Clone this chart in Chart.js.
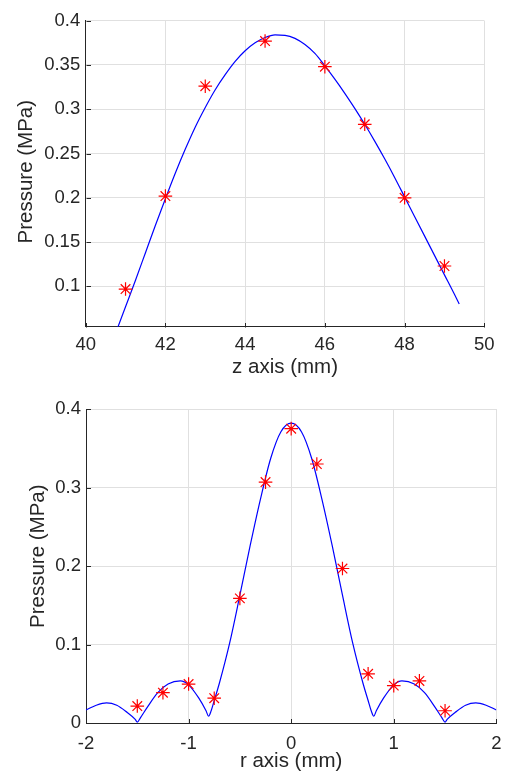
<!DOCTYPE html>
<html>
<head>
<meta charset="utf-8">
<script src="https://cdn.jsdelivr.net/npm/chart.js@4/dist/chart.umd.min.js"></script>
<style>
  html, body { margin: 0; padding: 0; background: #fff; overflow: hidden; }
  body { width: 511px; height: 772px; position: relative; }
  canvas { position: absolute; left: 0; }
  #c1 { top: 0; }
  #c2 { top: 386px; }
</style>
</head>
<body>
<canvas id="c1" width="511" height="386"></canvas>
<canvas id="c2" width="511" height="390"></canvas>
<script>
// ---- Top chart (z axis) ----
const zMeasured  = [41, 42, 43, 44.5, 46, 47, 48, 49];
const pMeasuredZ = [0.097, 0.202, 0.326, 0.377, 0.348, 0.283, 0.200, 0.123];

const zFit  = [40.75, 41, 41.25, 41.5, 41.75, 42, 42.25, 42.5, 42.75, 43, 43.25, 43.5, 43.75, 44, 44.25, 44.5, 44.75, 45, 45.25, 45.5, 45.75, 46, 46.25, 46.5, 46.75, 47, 47.25, 47.5, 47.75, 48, 48.25, 48.5, 48.75, 49, 49.25, 49.37];
const pFitZ = [0.047, 0.077, 0.107, 0.138, 0.169, 0.199, 0.228, 0.255, 0.280, 0.302, 0.322, 0.339, 0.354, 0.366, 0.375, 0.381, 0.384, 0.3835, 0.380, 0.373, 0.363, 0.349, 0.334, 0.318, 0.301, 0.283, 0.264, 0.244, 0.223, 0.201, 0.179, 0.157, 0.135, 0.113, 0.091, 0.080];

const zTicks = [40, 42, 44, 46, 48, 50];
const zTickLabels = ['40', '42', '44', '46', '48', '50'];
const pTicksTop = [0.1, 0.15, 0.2, 0.25, 0.3, 0.35, 0.4];
const pTickLabelsTop = ['0.1', '0.15', '0.2', '0.25', '0.3', '0.35', '0.4'];

// ---- Bottom chart (r axis) ----
const rMeasured  = [-1.5, -1.25, -1, -0.75, -0.5, -0.25, 0, 0.25, 0.5, 0.75, 1, 1.25, 1.5];
const pMeasuredR = [0.022, 0.039, 0.050, 0.032, 0.159, 0.307, 0.375, 0.330, 0.197, 0.063, 0.048, 0.054, 0.016];

const rFit  = [-2.0, -1.9, -1.8, -1.7, -1.6, -1.52, -1.5, -1.47, -1.4, -1.3, -1.2, -1.08, -1.0, -0.9, -0.83, -0.805, -0.78, -0.75, -0.7, -0.6, -0.5, -0.4, -0.3, -0.2, -0.1, 0,
               0.1, 0.2, 0.3, 0.4, 0.5, 0.6, 0.7, 0.75, 0.78, 0.805, 0.83, 0.9, 1.0, 1.08, 1.2, 1.3, 1.4, 1.47, 1.5, 1.52, 1.6, 1.7, 1.8, 1.9, 2.0];
const pFitR = [0.017, 0.023, 0.026, 0.023, 0.014, 0.005, 0.0015, 0.007, 0.021, 0.039, 0.050, 0.054, 0.049, 0.032, 0.016, 0.009, 0.016, 0.029, 0.051, 0.102, 0.163, 0.226, 0.285, 0.337, 0.371, 0.382,
               0.371, 0.337, 0.285, 0.226, 0.163, 0.102, 0.051, 0.029, 0.016, 0.009, 0.016, 0.032, 0.049, 0.054, 0.050, 0.039, 0.021, 0.007, 0.0015, 0.005, 0.014, 0.023, 0.026, 0.023, 0.017];

const rTicks = [-2, -1, 0, 1, 2];
const rTickLabels = ['-2', '-1', '0', '1', '2'];
const pTicksBottom = [0, 0.1, 0.2, 0.3, 0.4];
const pTickLabelsBottom = ['0', '0.1', '0.2', '0.3', '0.4'];

const yTitle = 'Pressure (MPa)';

// ---- styling ----
const FONT = '"Liberation Sans", Arial, Helvetica, sans-serif';
const TXT = '#262626';
const GRID = '#e0e0e0';

const inwardTicks = {
  id: 'inwardTicks',
  afterDraw(chart, args, opts) {
    const ctx = chart.ctx, a = chart.chartArea;
    const xs = chart.scales.x, ys = chart.scales.y;
    ctx.save();
    ctx.strokeStyle = TXT;
    ctx.lineWidth = 1;
    ctx.beginPath();
    xs.ticks.forEach(t => {
      const px = Math.round(xs.getPixelForValue(t.value)) + 0.5;
      ctx.moveTo(px, Math.round(a.bottom) + 0.5);
      ctx.lineTo(px, Math.round(a.bottom) - 4);
    });
    ys.ticks.forEach(t => {
      const py = Math.round(ys.getPixelForValue(t.value)) + 0.5;
      ctx.moveTo(Math.round(a.left) + 0.5, py);
      ctx.lineTo(Math.round(a.left) + 5, py);
    });
    ctx.stroke();
    // y-axis label (rotated), placed like the MATLAB ylabel
    ctx.fillStyle = TXT;
    ctx.font = '20.5px ' + FONT;
    ctx.textAlign = 'center';
    ctx.textBaseline = 'middle';
    ctx.translate(opts.titleX, (a.top + a.bottom) / 2 + opts.titleShift);
    ctx.rotate(-Math.PI / 2);
    ctx.fillText(yTitle, 0, 0);
    ctx.restore();
  }
};

function makeChart(id, cfg) {
  const toPts = (xs, ys) => xs.map((x, i) => ({ x: x, y: ys[i] }));
  return new Chart(document.getElementById(id), {
    type: 'scatter',
    data: {
      datasets: [
        {
          type: 'line',
          data: toPts(cfg.fitX, cfg.fitY),
          borderColor: '#0000ff',
          borderWidth: 1.2,
          pointRadius: 0,
          cubicInterpolationMode: 'monotone',
          fill: false,
          order: 2
        },
        {
          data: toPts(cfg.measX, cfg.measY),
          pointStyle: 'star',
          pointRadius: 6.8,
          borderColor: '#ff0000',
          backgroundColor: '#ff0000',
          pointBorderWidth: 1.2,
          showLine: false,
          order: 1
        }
      ]
    },
    options: {
      responsive: false,
      animation: false,
      devicePixelRatio: 1,
      layout: { padding: { top: cfg.padTop, right: cfg.padRight, left: 0, bottom: 0 } },
      plugins: {
        legend: { display: false },
        tooltip: { enabled: false },
        inwardTicks: { titleX: cfg.yTitleX, titleShift: cfg.yTitleShift }
      },
      scales: {
        x: {
          type: 'linear',
          min: cfg.xMin, max: cfg.xMax,
          afterBuildTicks: s => { s.ticks = cfg.xTicks.map(v => ({ value: v })); },
          afterFit: s => { s.height = cfg.xAxisH; },
          grid: { color: GRID, lineWidth: 1, drawTicks: false },
          border: { color: TXT, width: 1 },
          ticks: {
            color: TXT, padding: cfg.xTickPad, maxRotation: 0, autoSkip: false,
            font: { family: FONT, size: 18.5 },
            callback: v => cfg.xLabels[cfg.xTicks.indexOf(v)]
          },
          title: {
            display: true, text: cfg.xTitle, color: TXT,
            font: { family: FONT, size: 20.5 },
            padding: { top: 0, bottom: cfg.xTitlePadB }
          }
        },
        y: {
          type: 'linear',
          min: cfg.yMin, max: cfg.yMax,
          afterBuildTicks: s => { s.ticks = cfg.yTicks.map(v => ({ value: v })); },
          afterFit: s => { s.width = cfg.yAxisW; },
          grid: { color: GRID, lineWidth: 1, drawTicks: false },
          border: { color: TXT, width: 1 },
          ticks: {
            color: TXT, padding: cfg.yTickPad, autoSkip: false,
            font: { family: FONT, size: 18.5 },
            callback: v => cfg.yLabels[cfg.yTicks.indexOf(v)]
          },
          title: { display: false }
        }
      }
    },
    plugins: [inwardTicks]
  });
}

makeChart('c1', {
  fitX: zFit, fitY: pFitZ, measX: zMeasured, measY: pMeasuredZ,
  xMin: 40, xMax: 50, yMin: 0.0545, yMax: 0.4,
  xTicks: zTicks, xLabels: zTickLabels, yTicks: pTicksTop, yLabels: pTickLabelsTop,
  xTitle: 'z axis (mm)',
  padTop: 20.67, padRight: 26.67, xAxisH: 59.33, yAxisW: 85.67,
  xTickPad: 7, yTickPad: 5.5, xTitlePadB: 6, yTitleX: 26, yTitleShift: -2
});

makeChart('c2', {
  fitX: rFit, fitY: pFitR, measX: rMeasured, measY: pMeasuredR,
  xMin: -2, xMax: 2, yMin: 0, yMax: 0.4,
  xTicks: rTicks, xLabels: rTickLabels, yTicks: pTicksBottom, yLabels: pTickLabelsBottom,
  xTitle: 'r axis (mm)',
  padTop: 23, padRight: 10.33, xAxisH: 52.67, yAxisW: 86,
  xTickPad: 9.5, yTickPad: 5, xTitlePadB: 2, yTitleX: 38.5, yTitleShift: -10
});
</script>
</body>
</html>
